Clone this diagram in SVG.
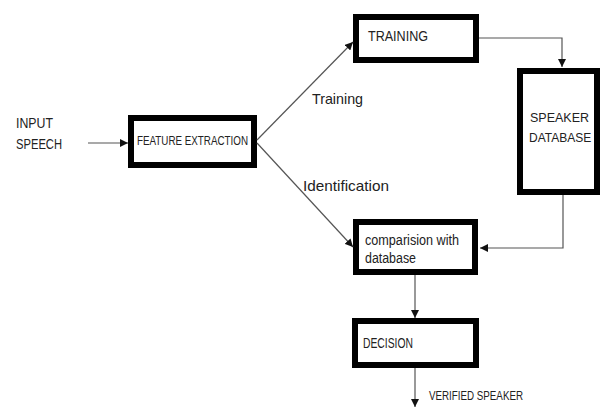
<svg xmlns="http://www.w3.org/2000/svg" width="601" height="408" viewBox="0 0 601 408">
<defs>
<marker id="ah" viewBox="0 0 10 10" refX="10" refY="5" markerWidth="8" markerHeight="8" markerUnits="userSpaceOnUse" orient="auto">
<path d="M0,0 L10,5 L0,10 z" fill="#111"/>
</marker>
</defs>
<style>
.box{fill:#fff;stroke:#000;stroke-width:6}
.t{font-family:"Liberation Sans",Arial,sans-serif;fill:#222}
.c{fill:none;stroke:#555;stroke-width:1.2;marker-end:url(#ah)}
</style>
<rect width="601" height="408" fill="#fff"/>
<g id="input">
<text class="t" x="16" y="128" font-size="15" textLength="37" lengthAdjust="spacingAndGlyphs">INPUT</text>
<text class="t" x="16" y="149" font-size="15" textLength="46" lengthAdjust="spacingAndGlyphs">SPEECH</text>
</g>
<g id="feature">
<rect class="box" x="131" y="118" width="123" height="47"/>
<text class="t" x="137" y="145" font-size="13.5" textLength="111" lengthAdjust="spacingAndGlyphs">FEATURE EXTRACTION</text>
</g>
<g id="training">
<rect class="box" x="356" y="17" width="120" height="43"/>
<text class="t" x="368" y="41" font-size="14" textLength="60" lengthAdjust="spacingAndGlyphs">TRAINING</text>
</g>
<g id="speakerdb">
<rect class="box" x="520" y="71" width="77" height="121"/>
<text class="t" x="530" y="122" font-size="12.5">SPEAKER</text>
<text class="t" x="529" y="142" font-size="12">DATABASE</text>
</g>
<g id="compare">
<rect class="box" x="356" y="222" width="119" height="50"/>
<text class="t" x="365" y="245" font-size="14" textLength="94" lengthAdjust="spacingAndGlyphs">comparision with</text>
<text class="t" x="365" y="263" font-size="14" textLength="51" lengthAdjust="spacingAndGlyphs">database</text>
</g>
<g id="decision">
<rect class="box" x="355" y="321" width="121" height="44"/>
<text class="t" x="363" y="348" font-size="14.5" textLength="50" lengthAdjust="spacingAndGlyphs">DECISION</text>
</g>
<g id="connectors">
<line class="c" x1="88" y1="143" x2="128" y2="143"/>
<line class="c" x1="257" y1="140" x2="353" y2="42"/>
<line class="c" x1="257" y1="143" x2="353" y2="247"/>
<polyline class="c" points="479,38 562,38 562,67"/>
<polyline class="c" points="563,195 563,248 480,248"/>
<line class="c" x1="415" y1="275" x2="415" y2="318"/>
<line class="c" x1="415" y1="368" x2="415" y2="407"/>
<text class="t" x="312" y="104" font-size="15" textLength="51" lengthAdjust="spacingAndGlyphs">Training</text>
<text class="t" x="303" y="191" font-size="15" textLength="86" lengthAdjust="spacingAndGlyphs">Identification</text>
<text class="t" x="429" y="400" font-size="13" textLength="94" lengthAdjust="spacingAndGlyphs">VERIFIED SPEAKER</text>
</g>
</svg>
